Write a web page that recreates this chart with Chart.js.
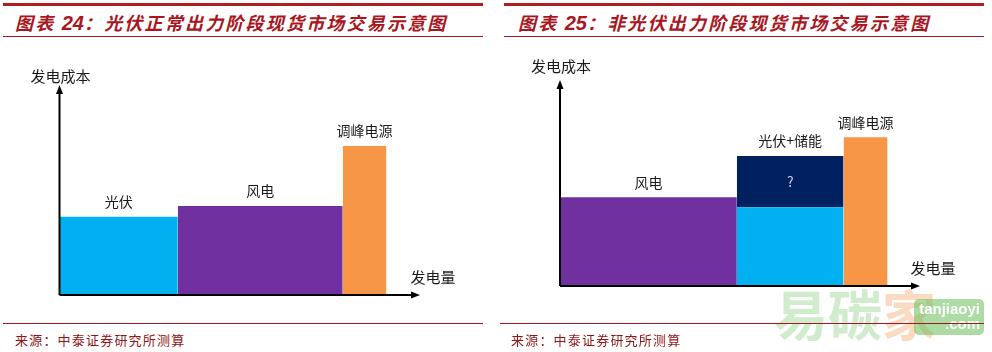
<!DOCTYPE html>
<html lang="zh">
  <head>
    <meta charset="UTF-8" />
    <title>光伏 / 非光伏出力阶段现货市场交易示意图</title>
    <style>
      body { margin: 0; width: 992px; height: 352px; background: #fff; position: relative; overflow: hidden; font-family: "Noto Sans CJK SC", sans-serif; }
      .bar-top { position: absolute; top: 3px; height: 3px; background: #b01c24; }
      .line { position: absolute; height: 1px; background: #9e1a20; }
      .title { position: absolute; top: 9px; font-size: 18px; font-weight: bold; font-style: italic; color: #a8161e; letter-spacing: 2.2px; white-space: nowrap; }
      .title b { font-family: "Liberation Sans", sans-serif; font-size: 20px; font-weight: bold; letter-spacing: 0; }
      .source { position: absolute; top: 330px; font-size: 13px; color: #8e1616; letter-spacing: 1.2px; white-space: nowrap; }
      canvas { position: absolute; top: 40px; }
      .wm { position: absolute; top: 286px; left: 774px; font-size: 54px; font-weight: bold; color: rgba(120, 200, 110, 0.35); white-space: nowrap; line-height: 1; }
      .wm span { color: rgba(245, 150, 80, 0.35); }
      .wm-box { position: absolute; left: 914px; top: 299px; width: 70px; height: 36px; border-radius: 5px; background: rgba(105, 190, 90, 0.55); color: #fff; font-family: "Liberation Sans", sans-serif; font-size: 15px; font-weight: bold; line-height: 15px; text-align: right; padding: 2px 4px 0 0; box-sizing: border-box; }
    </style>
  </head>
  <script src="https://cdn.jsdelivr.net/npm/chart.js@4.4.0/dist/chart.umd.min.js"></script>
  <body>
    <div class="bar-top" style="left: 3px; width: 480px"></div>
    <div class="bar-top" style="left: 504px; width: 480px"></div>
    <div class="title" style="left: 15px">图表 <b>24</b>：光伏正常出力阶段现货市场交易示意图</div>
    <div class="title" style="left: 518px">图表 <b>25</b>：非光伏出力阶段现货市场交易示意图</div>
    <div class="line" style="left: 3px; top: 36px; width: 480px"></div>
    <div class="line" style="left: 504px; top: 36px; width: 480px"></div>

    <canvas id="leftChart" width="496" height="275" style="left: 0"></canvas>
    <canvas id="rightChart" width="496" height="275" style="left: 496px"></canvas>

    <div class="wm">易碳<span>家</span></div>
    <div class="wm-box">tanjiaoyi<br />.com</div>

    <div class="line" style="left: 3px; top: 323px; width: 480px"></div>
    <div class="line" style="left: 500px; top: 323px; width: 484px"></div>
    <div class="source" style="left: 15px">来源：中泰证券研究所测算</div>
    <div class="source" style="left: 511px">来源：中泰证券研究所测算</div>

    <script>
      // 图表24：光伏正常出力阶段（宽度=发电量，高度=发电成本）
      const leftLabels = ["光伏", "风电", "调峰电源"];
      const leftWidths = [33, 46, 12.2];
      const leftCosts = [37.6, 42.8, 71.6];
      const leftColors = ["#00b0f0", "#7030a0", "#f79646"];

      // 图表25：非光伏出力阶段
      const rightLabels = ["风电", "光伏+储能", "调峰电源"];
      const rightWidths = [49.4, 29.8, 12.3];
      const rightCosts = [43.5, 38.6, 72.9];
      const rightStorage = [0, 25.1, 0]; // 储能加在光伏上面
      const rightColors = ["#7030a0", "#00b0f0", "#f79646"];
      const storageLabel = "?";
      const storageColor = "#002060";

      const yTitle = "发电成本";
      const xTitle = "发电量";

      function makeBlocks(widths, costs, colors, storage) {
        const sets = [];
        let x0 = 0;
        widths.forEach((w, i) => {
          const x1 = x0 + w;
          sets.push({
            data: [
              { x: x0, y: 0 },
              { x: x0, y: costs[i] },
              { x: x1, y: costs[i] },
              { x: x1, y: 0 },
            ],
            backgroundColor: colors[i],
            fill: "origin",
          });
          if (storage && storage[i] > 0) {
            const top = costs[i] + storage[i];
            sets.push({
              data: [
                { x: x0, y: costs[i] },
                { x: x0, y: top },
                { x: x1, y: top },
                { x: x1, y: costs[i] },
              ],
              backgroundColor: storageColor,
              fill: { value: costs[i] },
            });
          }
          x0 = x1;
        });
        sets.forEach((s) => {
          s.showLine = true;
          s.borderWidth = 0;
          s.pointRadius = 0;
          s.tension = 0;
        });
        return sets;
      }

      // 坐标轴箭头 + 文字标注
      const schematic = {
        id: "schematic",
        afterDatasetsDraw(chart, args, opts) {
          const ctx = chart.ctx;
          const xs = chart.scales.x;
          const ys = chart.scales.y;
          const ox = xs.getPixelForValue(0);
          const oy = ys.getPixelForValue(0);
          const topY = ys.getPixelForValue(100);
          const endX = xs.getPixelForValue(100);
          ctx.save();
          ctx.strokeStyle = "#000";
          ctx.fillStyle = "#000";
          ctx.lineWidth = 2;
          ctx.beginPath();
          ctx.moveTo(ox, oy);
          ctx.lineTo(ox, topY + 4);
          ctx.moveTo(ox, oy);
          ctx.lineTo(endX - 4, oy);
          ctx.stroke();
          ctx.beginPath();
          ctx.moveTo(ox, topY - 2);
          ctx.lineTo(ox - 3.5, topY + 7);
          ctx.lineTo(ox + 3.5, topY + 7);
          ctx.closePath();
          ctx.fill();
          ctx.beginPath();
          ctx.moveTo(endX + 2, oy);
          ctx.lineTo(endX - 7, oy - 3.5);
          ctx.lineTo(endX - 7, oy + 3.5);
          ctx.closePath();
          ctx.fill();

          ctx.textAlign = "center";
          ctx.textBaseline = "middle";
          ctx.fillStyle = "#1a1a1a";
          ctx.font = '15px "Noto Sans CJK SC"';
          ctx.fillText(yTitle, ox + 1, topY - opts.yTitleGap);
          ctx.fillText(xTitle, endX + 15, oy - 18);

          ctx.font = '14px "Noto Sans CJK SC"';
          let x0 = 0;
          opts.widths.forEach((w, i) => {
            const cx = xs.getPixelForValue(x0 + w / 2);
            const top = opts.costs[i] + (opts.storage ? opts.storage[i] : 0);
            ctx.fillText(opts.labels[i], cx, ys.getPixelForValue(top) - 15);
            if (opts.storage && opts.storage[i] > 0) {
              const mid = opts.costs[i] + opts.storage[i] / 2;
              ctx.fillStyle = "#c8d0e8";
              ctx.fillText(storageLabel, cx, ys.getPixelForValue(mid));
              ctx.fillStyle = "#1a1a1a";
            }
            x0 += w;
          });
          ctx.restore();
        },
      };

      function drawChart(id, padding, blocks, opts) {
        return new Chart(document.getElementById(id), {
          type: "scatter",
          data: { datasets: blocks },
          options: {
            responsive: false,
            animation: false,
            devicePixelRatio: 1,
            layout: { padding: padding },
            scales: {
              x: { type: "linear", min: 0, max: 100, display: false },
              y: { type: "linear", min: 0, max: 100, display: false },
            },
            plugins: {
              legend: { display: false },
              tooltip: { enabled: false },
              schematic: opts,
            },
          },
          plugins: [schematic],
        });
      }

      drawChart(
        "leftChart",
        { left: 59.5, right: 78, top: 47, bottom: 20 },
        makeBlocks(leftWidths, leftCosts, leftColors),
        { labels: leftLabels, widths: leftWidths, costs: leftCosts, yTitleGap: 11 }
      );

      drawChart(
        "rightChart",
        { left: 64, right: 74, top: 42, bottom: 29 },
        makeBlocks(rightWidths, rightCosts, rightColors, rightStorage),
        { labels: rightLabels, widths: rightWidths, costs: rightCosts, storage: rightStorage, yTitleGap: 16 }
      );
    </script>
  </body>
</html>
